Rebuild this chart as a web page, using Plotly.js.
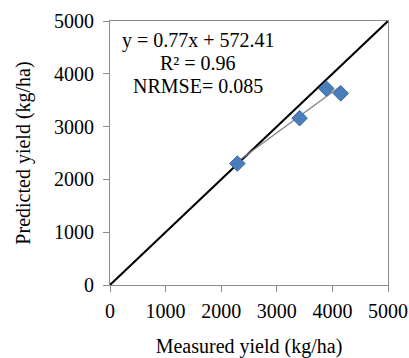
<!DOCTYPE html>
<html>
<head>
<meta charset="utf-8">
<script src="https://cdn.plot.ly/plotly-3.0.1.min.js"></script>
<style>html,body{margin:0;padding:0;background:#fff;}#chart{width:409px;height:358px;}</style>
</head>
<body>
<div id="chart"></div>
<script>
var measured = [2290, 3410, 3890, 4150];
var predicted = [2300, 3160, 3720, 3630];
var oneToOne = [0, 5000];
var trendX = [2290, 4150];
var slope = 0.77, intercept = 572.41;
var trendY = trendX.map(function(x){ return slope * x + intercept; });
var tickVals = [0, 1000, 2000, 3000, 4000, 5000];
var tickText = ["0", "1000", "2000", "3000", "4000", "5000"];
var statsLines = ["y = 0.77x + 572.41", "R² = 0.96", "NRMSE= 0.085"];
var statsY = [0.928, 0.841, 0.752];

var font = {family: "Liberation Serif", size: 20, color: "#000"};

var traces = [
  {x: oneToOne, y: oneToOne, mode: "lines", line: {color: "#000", width: 2}, hoverinfo: "skip"},
  {x: trendX, y: trendY, mode: "lines", line: {color: "#7f7f7f", width: 1.2}, hoverinfo: "skip"},
  {x: measured, y: predicted, mode: "markers", marker: {symbol: "diamond", size: 12, color: "#4a7ebb", line: {color: "#3a6ea5", width: 1}}}
];

var axisCommon = {
  range: [0, 5000], tickvals: tickVals, ticktext: tickText,
  showgrid: false, zeroline: false, showline: true, mirror: true,
  linecolor: "#8c8c8c", linewidth: 1, ticks: "outside", ticklen: 6,
  tickcolor: "#8c8c8c", tickfont: font, fixedrange: true
};

var annotations = statsLines.map(function(t, i){
  return {xref: "paper", yref: "paper", x: 0.317, y: statsY[i], xanchor: "center", yanchor: "middle",
    text: t, showarrow: false, font: font};
});

var layout = {
  width: 409, height: 358,
  margin: {l: 110, r: 21, t: 21, b: 73},
  paper_bgcolor: "#fff", plot_bgcolor: "#fff",
  showlegend: false, font: font,
  xaxis: Object.assign({}, axisCommon, {ticklabelstandoff: 2, title: {text: "Measured yield (kg/ha)", font: font, standoff: 19}}),
  yaxis: Object.assign({}, axisCommon, {ticklabelstandoff: 5, title: {text: "Predicted yield (kg/ha)", font: font, standoff: 18}}),
  annotations: annotations
};

Plotly.newPlot("chart", traces, layout, {staticPlot: true, displayModeBar: false});
</script>
</body>
</html>
